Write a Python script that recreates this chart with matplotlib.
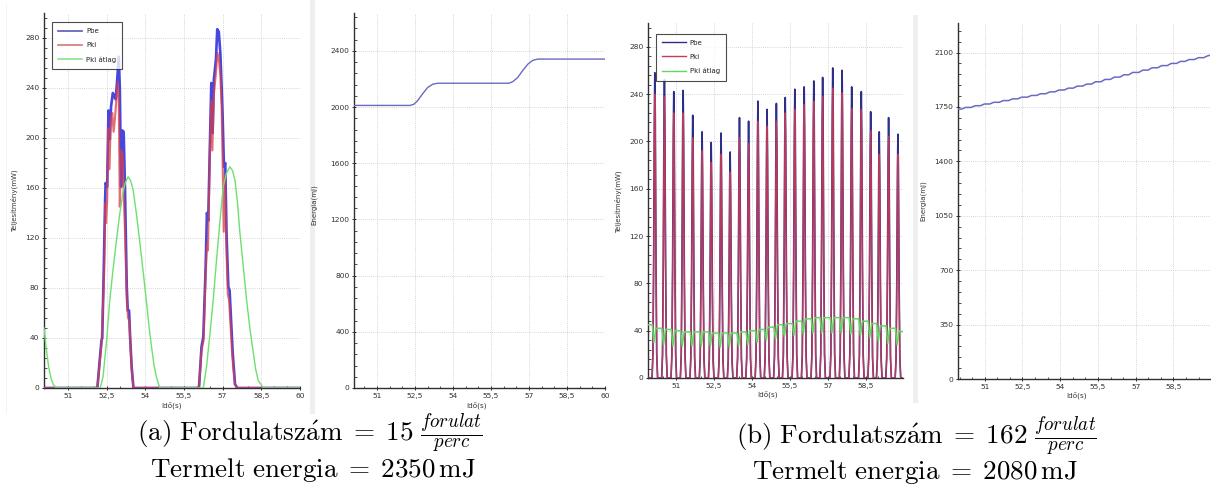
import numpy as np
import matplotlib
matplotlib.use('Agg')
import matplotlib.pyplot as plt
from matplotlib.ticker import FixedLocator, FixedFormatter, AutoMinorLocator
from matplotlib.patches import Rectangle

plt.rcParams['mathtext.fontset'] = 'cm'
plt.rcParams['font.family'] = ['DejaVu Sans']

# ---------------- data: (a) 15 fordulat/perc ----------------
a_pbe_t = [50.07, 52.14, 52.23, 52.30, 52.33, 52.39, 52.44, 52.46, 52.52, 52.57, 52.62, 52.67, 52.74,
           52.80, 52.85, 52.90, 52.97, 53.01, 53.06, 53.11, 53.16, 53.21, 53.28, 53.32, 53.37, 53.41,
           53.47, 53.54, 56.08, 56.18, 56.25, 56.34, 56.39, 56.44, 56.51, 56.56, 56.61, 56.66, 56.74,
           56.79, 56.85, 56.91, 56.96, 57.00, 57.05, 57.10, 57.15, 57.22, 57.27, 57.32, 57.39, 57.48,
           57.57, 60.0]
a_pbe_v = [0, 0, 22, 38, 40, 97, 150, 164, 161, 222, 199, 225, 236,
           233, 231, 244, 265, 241, 161, 206, 205, 161, 81, 62, 62, 41,
           17, 0, 0, 33, 41, 97, 140, 134, 199, 244, 204, 247, 263,
           287, 285, 268, 241, 217, 177, 180, 124, 81, 78, 57, 28, 3,
           0, 0]
a_pki_t = [50.07, 52.14, 52.30, 52.40, 52.45, 52.48, 52.52, 52.57, 52.61, 52.66, 52.72, 52.77, 52.82,
           52.88, 52.93, 52.97, 53.01, 53.06, 53.12, 53.17, 53.22, 53.28, 53.33, 53.38, 53.42, 53.48,
           53.54, 56.08, 56.18, 56.26, 56.34, 56.39, 56.43, 56.50, 56.56, 56.60, 56.66, 56.73, 56.80,
           56.86, 56.91, 56.96, 57.00, 57.04, 57.09, 57.14, 57.20, 57.25, 57.30, 57.38, 57.47, 57.56, 60.0]
a_pki_v = [0, 0, 35, 90, 148, 132, 150, 208, 175, 215, 220, 205, 215,
           232, 245, 230, 145, 190, 188, 150, 120, 70, 56, 54, 35, 12,
           0, 0, 30, 38, 90, 115, 110, 185, 230, 190, 235, 250, 268,
           262, 250, 225, 180, 125, 170, 115, 75, 70, 52, 24, 3, 0, 0]
a_avg_t = [50.07, 50.15, 50.25, 50.35, 50.45, 50.55, 52.25, 52.36, 52.50, 52.62, 52.75, 52.88, 53.00,
           53.12, 53.22, 53.33, 53.43, 53.53, 53.65, 53.78, 53.91, 54.04, 54.14, 54.24, 54.34, 54.43,
           54.56, 56.25, 56.38, 56.51, 56.64, 56.76, 56.89, 57.02, 57.15, 57.28, 57.38, 57.48, 57.58,
           57.67, 57.80, 57.93, 58.06, 58.19, 58.28, 58.38, 58.58, 60.0]
a_avg_v = [48, 33, 17, 7, 2, 0, 0, 9, 38, 70, 95, 118, 138,
           155, 164, 169, 166, 158, 140, 118, 94, 70, 50, 33, 18, 9,
           0, 0, 18, 44, 72, 102, 132, 161, 172, 177, 174, 166, 147,
           124, 97, 70, 47, 28, 15, 6, 0, 0]
a_en_t = [50.09, 52.30, 52.45, 52.60, 52.80, 53.00, 53.20, 53.40, 56.20, 56.35, 56.55, 56.75, 56.95,
          57.15, 57.35, 60.0]
a_en_v = [2012, 2012, 2020, 2045, 2095, 2140, 2163, 2170, 2170, 2180, 2210, 2260, 2305, 2333, 2342, 2342]

# ---------------- data: (b) 162 fordulat/perc ----------------
b_peak_t = [50.16, 50.54, 50.91, 51.28, 51.66, 52.03, 52.39, 52.78, 53.14, 53.51, 53.87, 54.24, 54.60,
            54.97, 55.32, 55.70, 56.07, 56.45, 56.80, 57.20, 57.57, 57.95, 58.33, 58.70, 59.04, 59.41, 59.78]
b_pbe_peak = [258, 252, 242, 243, 222, 208, 199, 207, 191, 220, 217, 234, 227,
              232, 237, 244, 246, 251, 254, 262, 260, 246, 242, 225, 208, 220, 206]
b_pki_peak = [240, 238, 224, 224, 203, 192, 182, 189, 174, 203, 198, 217, 213,
              217, 224, 227, 231, 234, 238, 245, 241, 228, 227, 209, 189, 204, 189]
b_avg_high = [42, 41, 40, 39, 39, 39, 38, 38, 38, 39, 40, 41, 43,
              45, 46, 48, 50, 51, 51, 51, 51, 50, 48, 46, 44, 42, 40]
b_avg_low = [30, 28, 27, 27, 27, 27, 27, 26, 26, 27, 28, 30, 32,
             33, 35, 36, 37, 38, 38, 38, 38, 37, 36, 34, 31, 29, 28]
b_avg_start, b_avg_end = 45, 39
b_en_start = 1736
b_en_after = [1747, 1758, 1769, 1780, 1791, 1802, 1813, 1824, 1835, 1847, 1859, 1871, 1884,
              1897, 1912, 1927, 1942, 1957, 1972, 1987, 2002, 2016, 2030, 2043, 2055, 2067, 2079]
b_en_end = 2082

x_ticks = [51, 52.5, 54, 55.5, 57, 58.5, 60]
x_tick_labels = ['51', '52,5', '54', '55,5', '57', '58,5', '60']
p_ticks = [0, 40, 80, 120, 160, 200, 240, 280]
ea_ticks = [0, 400, 800, 1200, 1600, 2000, 2400]
eb_ticks = [0, 350, 700, 1050, 1400, 1750, 2100]

rpm = [15, 162]
energy_total = [2350, 2080]
series_names = ['Pbe', 'Pki', 'Pki átlag']

# ---------------- figure ----------------
W, H = 1211, 495
fig = plt.figure(figsize=(W / 100, H / 100), dpi=100)
fig.patch.set_facecolor('white')

# separators (drawn beneath everything)
for (x0, x1, y0, y1) in [(310, 315, 0, 414), (913, 918, 15, 403)]:
    fig.add_artist(Rectangle((x0 / W, 1 - y1 / H), (x1 - x0) / W, (y1 - y0) / H,
                             transform=fig.transFigure, facecolor='#efefef', edgecolor='none',
                             zorder=-10))
fig.add_artist(Rectangle((6 / W, 1 - 414 / H), 1.2 / W, 410 / H, transform=fig.transFigure,
                         facecolor='#f3f3f3', edgecolor='none', zorder=-10))


def px_axes(l, r, t, b):
    ax = fig.add_axes([l / W, 1 - b / H, (r - l) / W, (b - t) / H])
    ax.patch.set_alpha(0)
    return ax


def style(ax, xlim, ylim, yticks, xlab_x):
    ax.set_xlim(*xlim)
    ax.set_ylim(*ylim)
    ax.xaxis.set_major_locator(FixedLocator(x_ticks))
    ax.xaxis.set_major_formatter(FixedFormatter(x_tick_labels))
    ax.yaxis.set_major_locator(FixedLocator(yticks))
    ax.xaxis.set_minor_locator(AutoMinorLocator(3))
    ax.yaxis.set_minor_locator(AutoMinorLocator(5))
    for s in ['top', 'right']:
        ax.spines[s].set_visible(False)
    for s in ['left', 'bottom']:
        ax.spines[s].set_color('#303030')
        ax.spines[s].set_linewidth(1.0)
    ax.tick_params(which='major', direction='inout', length=3.5, width=0.7, color='#303030',
                   labelsize=5.4, labelcolor='#333333', pad=1.5)
    ax.tick_params(which='minor', direction='in', length=1.8, width=0.6, color='#303030')
    ax.grid(True, which='major', color='#c8c8c8', linestyle=(0, (1, 1.5)), linewidth=0.6)
    ax.set_axisbelow(True)
    ax.set_xlabel('Idő(s)', fontsize=5.2, color='#333333')
    ax.xaxis.set_label_coords(xlab_x, -0.036)
    return ax


def legend(ax, colors, lws, anchor):
    handles = [plt.Line2D([], [], color=c, lw=lw) for c, lw in zip(colors, lws)]
    lg = ax.legend(handles, series_names, loc='upper left', bbox_to_anchor=anchor,
                   fontsize=5, frameon=True, fancybox=False, edgecolor='#202020',
                   handlelength=3.4, handletextpad=0.6, labelspacing=1.15,
                   borderpad=0.9, borderaxespad=0)
    lg.get_frame().set_linewidth(0.8)
    for t in lg.get_texts():
        t.set_color('#222222')
    return lg


LAB_FS = 5.0

# Panel (a) power
ax1 = px_axes(44, 300, 13, 388)
style(ax1, (50.07, 60.0), (0, 300), p_ticks, 0.5)
ax1.set_ylabel('Teljesítmény(mW)', fontsize=LAB_FS, color='#333333')
ax1.yaxis.set_label_coords(-0.1, 0.5)
ax1.plot(a_pbe_t, a_pbe_v, color='#4646e0', lw=1.9, solid_joinstyle='round', zorder=3)
ax1.plot(a_pki_t, a_pki_v, color='#d83c4a', lw=1.5, alpha=0.75, solid_joinstyle='round', zorder=4)
ax1.plot(a_avg_t, a_avg_v, color='#6ee06e', lw=1.0, zorder=5)
legend(ax1, ['#5a5ab0', '#d07878', '#8ee08e'], [1.2, 1.2, 1.2], (0.031, 0.976))

# Panel (a) energy
ax2 = px_axes(354, 605, 13, 388)
style(ax2, (50.09, 60.0), (0, 2670), ea_ticks, 0.49)
ax2.set_ylabel('Energia(mJ)', fontsize=LAB_FS, color='#333333')
ax2.yaxis.set_label_coords(-0.145, 0.49)
ax2.plot(a_en_t, a_en_v, color='#6a6ac0', lw=1.0, zorder=3)

# Panel (b) power
ax3 = px_axes(648, 903, 23, 378)
style(ax3, (49.89, 59.98), (0, 300), p_ticks, 0.47)
ax3.set_ylabel('Teljesítmény(mW)', fontsize=LAB_FS, color='#333333')
ax3.yaxis.set_label_coords(-0.1, 0.496)

off = [-0.11, -0.075, -0.045, -0.018, 0.0, 0.018, 0.045, 0.075, 0.11]
frac = [0, 0.08, 0.40, 0.86, 1.0, 0.86, 0.40, 0.08, 0]


def pulse_path(peaks):
    xs, ys = [49.89], [0]
    for t, p in zip(b_peak_t, peaks):
        xs += [t + o for o in off]
        ys += [p * f for f in frac]
    xs.append(59.98)
    ys.append(0)
    return xs, ys


xs, ys = pulse_path(b_pbe_peak)
ax3.plot(xs, ys, color='#2e2e88', lw=1.2, zorder=3)
xs, ys = pulse_path(b_pki_peak)
ax3.plot(xs, ys, color='#c83a5a', lw=1.0, alpha=0.9, zorder=4)

gx, gy = [49.89], [b_avg_start]
prev = b_avg_start
for t, hi, lo in zip(b_peak_t, b_avg_high, b_avg_low):
    gx += [t - 0.10, t - 0.035, t + 0.04]
    gy += [prev, lo, hi]
    prev = hi
gx.append(59.98)
gy.append(b_avg_end)
ax3.plot(gx, gy, color='#62d862', lw=1.1, zorder=5)
legend(ax3, ['#2e2e88', '#c83a5a', '#62d862'], [1.0, 1.0, 1.0], (0.03, 0.97))

# Panel (b) energy
ax4 = px_axes(958, 1210, 23, 379)
style(ax4, (49.94, 59.95), (0, 2290), eb_ticks, 0.47)
ax4.set_ylabel('Energia(mJ)', fontsize=LAB_FS, color='#333333')
ax4.yaxis.set_label_coords(-0.124, 0.5)
ex, ey = [49.94], [b_en_start]
prev = b_en_start
for t, e in zip(b_peak_t, b_en_after):
    ex += [t - 0.08, t + 0.08]
    ey += [prev, e]
    prev = e
ex.append(59.95)
ey.append(b_en_end)
ax4.plot(ex, ey, color='#6a6ac0', lw=1.1, zorder=3)

# captions
cap_fs = 19.5
fig.text(310 / W, 1 - 442 / H,
         r'$\mathrm{(a)\ Fordulatsz\acute{a}m}\;=\;%d\ \frac{forulat}{perc}$' % rpm[0],
         ha='center', va='baseline', fontsize=cap_fs)
fig.text(313 / W, 1 - 477 / H,
         r'$\mathrm{Termelt\ energia}\;=\;%d\,\mathrm{mJ}$' % energy_total[0],
         ha='center', va='baseline', fontsize=cap_fs)
fig.text(916 / W, 1 - 445 / H,
         r'$\mathrm{(b)\ Fordulatsz\acute{a}m}\;=\;%d\ \frac{forulat}{perc}$' % rpm[1],
         ha='center', va='baseline', fontsize=cap_fs)
fig.text(915 / W, 1 - 479 / H,
         r'$\mathrm{Termelt\ energia}\;=\;%d\,\mathrm{mJ}$' % energy_total[1],
         ha='center', va='baseline', fontsize=cap_fs)

fig.savefig('out.png', dpi=100, facecolor='white')
